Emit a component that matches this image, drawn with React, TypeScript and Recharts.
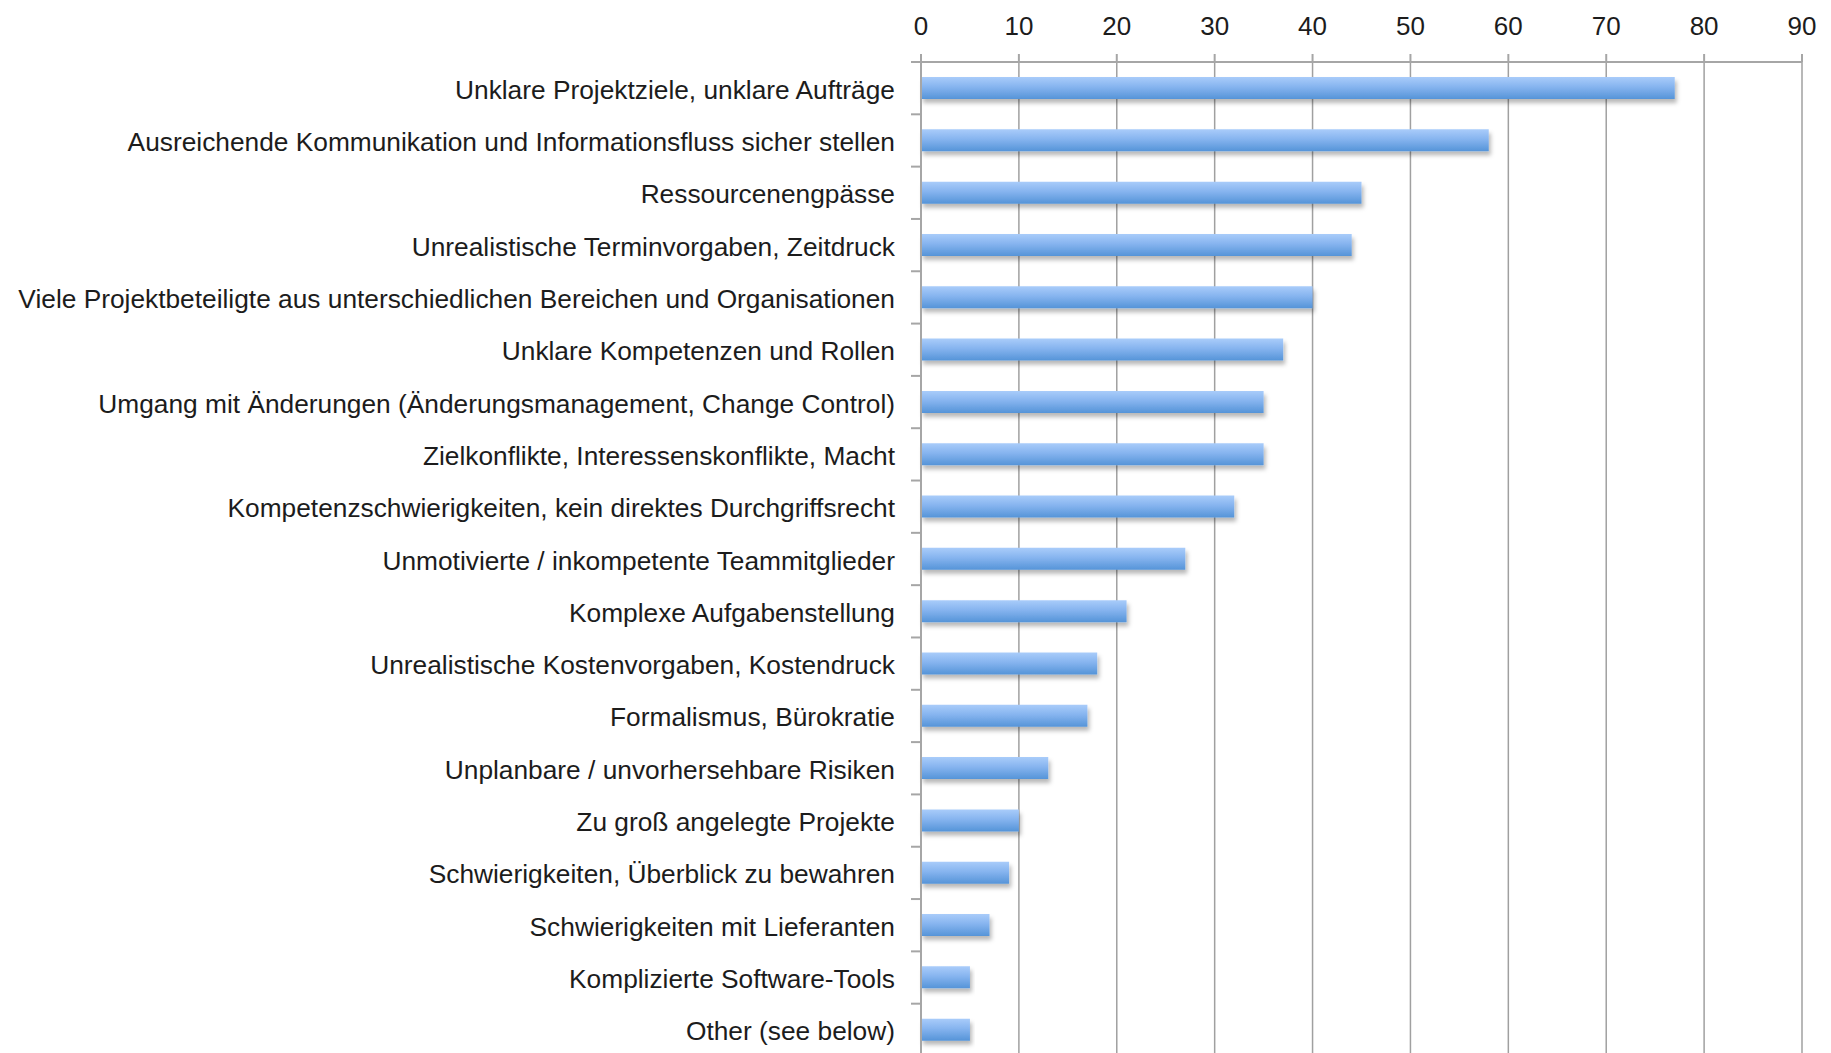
import { Bar, BarChart, CartesianGrid, XAxis, YAxis } from "recharts";

const CATEGORIES = [
  "Unklare Projektziele, unklare Aufträge",
  "Ausreichende Kommunikation und Informationsfluss sicher stellen",
  "Ressourcenengpässe",
  "Unrealistische Terminvorgaben, Zeitdruck",
  "Viele Projektbeteiligte aus unterschiedlichen Bereichen und Organisationen",
  "Unklare Kompetenzen und Rollen",
  "Umgang mit Änderungen (Änderungsmanagement, Change Control)",
  "Zielkonflikte, Interessenskonflikte, Macht",
  "Kompetenzschwierigkeiten, kein direktes Durchgriffsrecht",
  "Unmotivierte / inkompetente Teammitglieder",
  "Komplexe Aufgabenstellung",
  "Unrealistische Kostenvorgaben, Kostendruck",
  "Formalismus, Bürokratie",
  "Unplanbare / unvorhersehbare Risiken",
  "Zu groß angelegte Projekte",
  "Schwierigkeiten, Überblick zu bewahren",
  "Schwierigkeiten mit Lieferanten",
  "Komplizierte Software-Tools",
  "Other (see below)",
];

const VALUES = [77, 58, 45, 44, 40, 37, 35, 35, 32, 27, 21, 18, 17, 13, 10, 9, 7, 5, 5];

const X_TICKS = [0, 10, 20, 30, 40, 50, 60, 70, 80, 90];

const data = CATEGORIES.map((name, i) => ({ name, value: VALUES[i] }));

const AXIS = "#a6a6a6";
const GRID = "#a0a0a0";
const TEXT = "#1c1c1c";
const FONT = "'Liberation Sans', Arial, Helvetica, sans-serif";

const WIDTH = 1831;
const HEIGHT = 1056;
const PLOT_TOP = 62;
const Y_AXIS_W = 921;
const LABEL_GAP = 26;
const HALF_BAND = (HEIGHT - PLOT_TOP) / CATEGORIES.length / 2;

function CategoryTick(props: any) {
  const { x, y, payload } = props;
  const axisX = x + LABEL_GAP;
  return (
    <g>
      <line
        x1={axisX - 10}
        x2={axisX}
        y1={y - HALF_BAND}
        y2={y - HALF_BAND}
        stroke={AXIS}
        strokeWidth={2}
      />
      <text x={x} y={y} dy="0.4em" textAnchor="end" fill={TEXT} fontSize={26.3} fontFamily={FONT}>
        {payload.value}
      </text>
    </g>
  );
}

export default function App() {
  return (
    <div
      style={{
        position: "absolute",
        left: 0,
        top: 0,
        width: WIDTH,
        height: 1053,
        overflow: "hidden",
        background: "#fff",
        fontFamily: FONT,
      }}
    >
      <BarChart
        width={WIDTH}
        height={HEIGHT}
        data={data}
        layout="vertical"
        margin={{ top: 0, right: 29, bottom: 0, left: 0 }}
      >
        <defs>
          <linearGradient id="barFill" x1="0" y1="0" x2="0" y2="1">
            <stop offset="0%" stopColor="#a9ccfa" />
            <stop offset="45%" stopColor="#86b4ef" />
            <stop offset="100%" stopColor="#5594d8" />
          </linearGradient>
          <filter id="barShadow" x="-5%" y="-30%" width="115%" height="180%">
            <feDropShadow dx="2" dy="4" stdDeviation="2.2" floodColor="#000" floodOpacity="0.28" />
          </filter>
        </defs>
        <CartesianGrid horizontal={false} stroke={GRID} strokeWidth={1.5} />
        <XAxis
          type="number"
          orientation="top"
          domain={[0, 90]}
          ticks={X_TICKS}
          height={PLOT_TOP}
          stroke={AXIS}
          axisLine={{ stroke: AXIS, strokeWidth: 2 }}
          tickLine={{ stroke: AXIS, strokeWidth: 2 }}
          tickSize={8}
          tickMargin={19}
          tick={{ fill: TEXT, fontSize: 26, fontFamily: FONT }}
          interval={0}
        />
        <YAxis
          type="category"
          dataKey="name"
          width={Y_AXIS_W}
          axisLine={{ stroke: AXIS, strokeWidth: 2 }}
          tickLine={false}
          tickSize={0}
          tickMargin={LABEL_GAP}
          tick={<CategoryTick />}
          interval={0}
        />
        <Bar
          dataKey="value"
          barSize={22}
          fill="url(#barFill)"
          filter="url(#barShadow)"
          isAnimationActive={false}
        />
      </BarChart>
    </div>
  );
}
